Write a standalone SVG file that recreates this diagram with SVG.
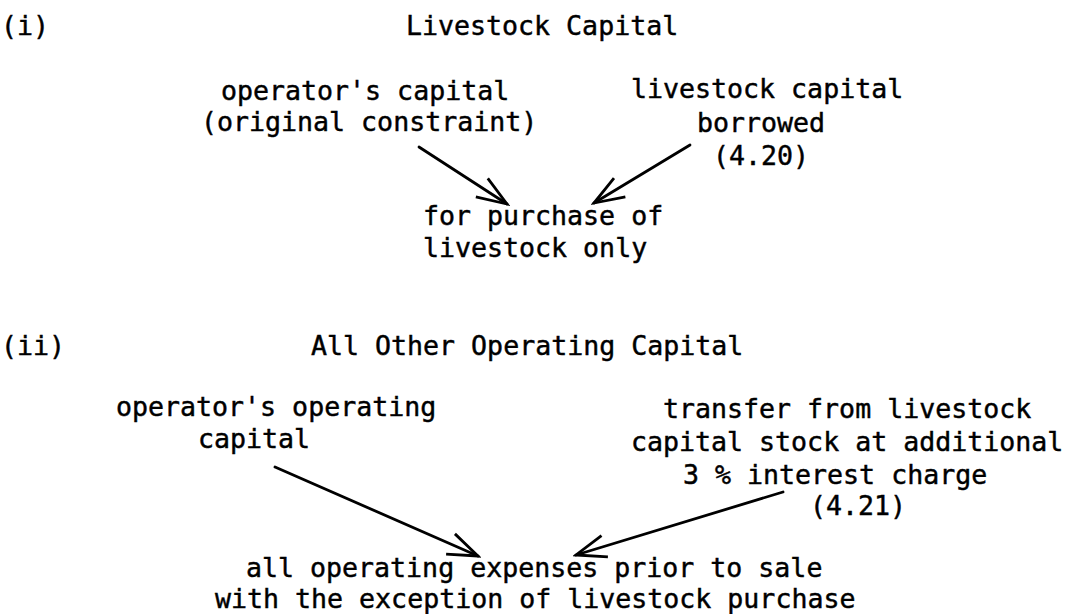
<svg xmlns="http://www.w3.org/2000/svg" width="1067" height="614" viewBox="0 0 1067 614">
<defs>
<style>
text{font-family:"DejaVu Sans Mono","Liberation Mono",monospace;font-size:26.6px;fill:#000;stroke:#000;stroke-width:0.45}
.conn{stroke:#000;stroke-width:2.8;fill:none;stroke-linecap:round}
</style>
<marker id="ah" markerUnits="userSpaceOnUse" markerWidth="36" markerHeight="30" viewBox="-3 -3 36 30" refX="30" refY="11" orient="auto">
<path d="M0,0 L30,11 L0,22" fill="none" stroke="#000" stroke-width="2.8" stroke-linejoin="miter"/>
</marker>
</defs>
<rect width="1067" height="614" fill="#fff"/>
<g id="label-i"><text x="1" y="35">(i)</text></g>
<g id="title-livestock"><text x="406" y="35">Livestock Capital</text></g>
<g id="node-operator-capital"><text x="221" y="100">operator's capital</text><text x="201" y="131">(original constraint)</text></g>
<g id="node-livestock-borrowed"><text x="631" y="98">livestock capital</text><text x="697" y="132">borrowed</text><text x="713" y="165">(4.20)</text></g>
<g id="node-purchase"><text x="423" y="225">for purchase of</text><text x="423" y="257">livestock only</text></g>
<g id="label-ii"><text x="1" y="355">(ii)</text></g>
<g id="title-other"><text x="311" y="355">All Other Operating Capital</text></g>
<g id="node-operator-operating"><text x="116" y="416">operator's operating</text><text x="198" y="448">capital</text></g>
<g id="node-transfer"><text x="663" y="418">transfer from livestock</text><text x="631" y="451">capital stock at additional</text><text x="683" y="484">3 % interest charge</text><text x="810" y="515">(4.21)</text></g>
<g id="node-expenses"><text x="246" y="577">all operating expenses prior to sale</text><text x="215" y="608">with the exception of livestock purchase</text></g>
<g id="connectors">
<line class="conn" x1="419" y1="147" x2="507" y2="204" marker-end="url(#ah)"/>
<line class="conn" x1="690" y1="145" x2="594" y2="203" marker-end="url(#ah)"/>
<line class="conn" x1="275" y1="467" x2="478" y2="556" marker-end="url(#ah)"/>
<line class="conn" x1="783" y1="492" x2="576" y2="555" marker-end="url(#ah)"/>
</g>
</svg>
